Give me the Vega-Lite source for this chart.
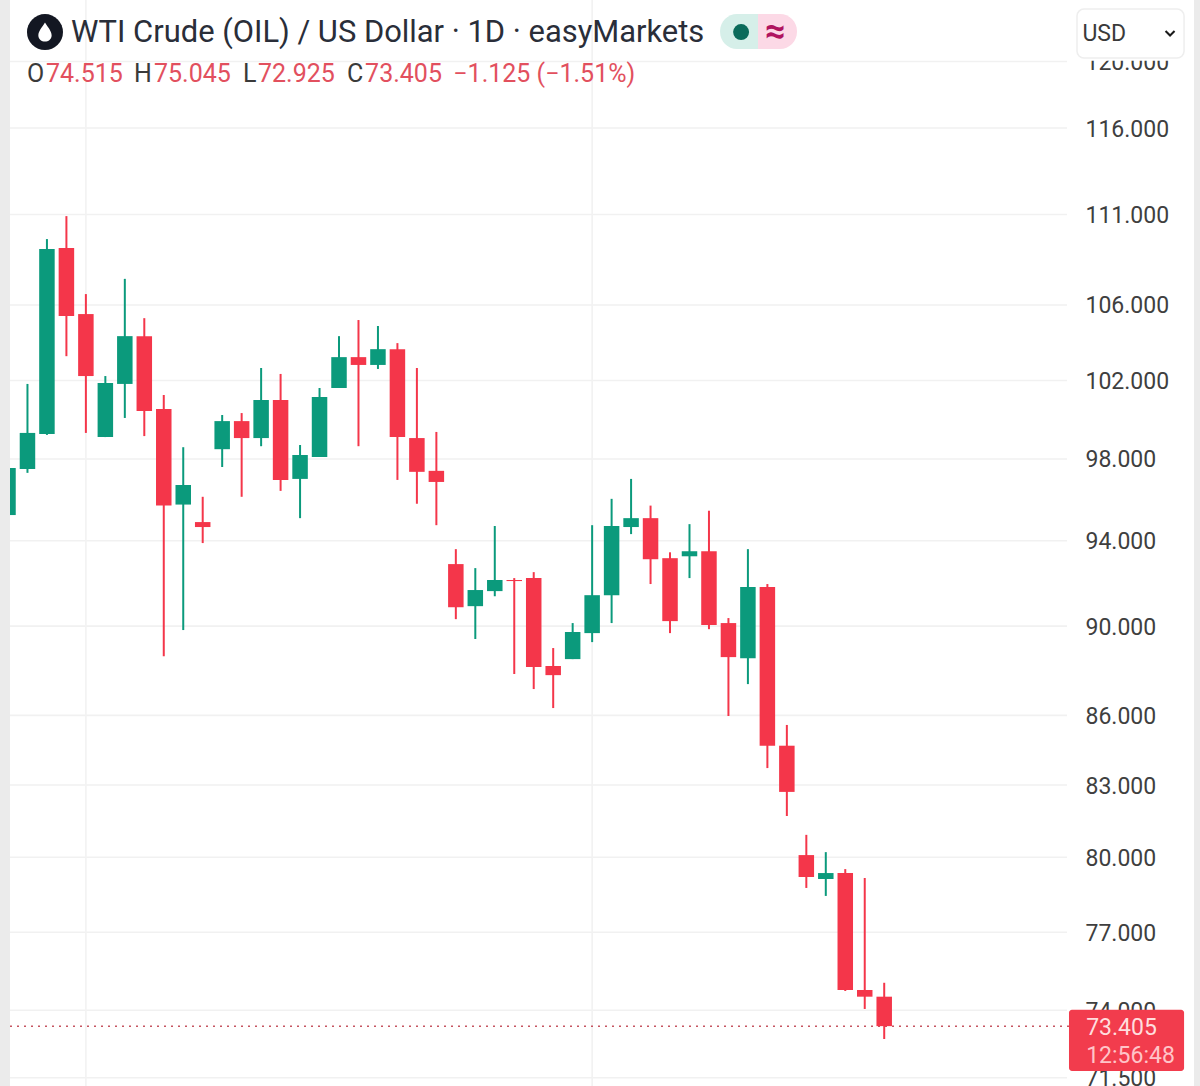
{"$schema":"https://vega.github.io/schema/vega-lite/v6.json","width":1184,"height":1086,"autosize":{"type":"none"},"padding":{"left":10,"right":6,"top":0,"bottom":0},"background":"#ebebeb","config":{"view":{"fill":"#ffffff","stroke":null},"text":{"font":"Roboto"}},
"datasets":{"candles":[
{"i":0,"o":95.24,"h":97.55,"l":95.24,"c":97.55,"dir":"up"},
{"i":1,"o":97.5,"h":101.82,"l":97.31,"c":99.31,"dir":"up"},
{"i":2,"o":99.26,"h":109.62,"l":99.21,"c":109.06,"dir":"up"},
{"i":3,"o":109.12,"h":110.91,"l":103.27,"c":105.4,"dir":"down"},
{"i":4,"o":105.51,"h":106.59,"l":99.31,"c":102.23,"dir":"down"},
{"i":5,"o":99.1,"h":102.23,"l":99.1,"c":101.87,"dir":"up"},
{"i":6,"o":101.82,"h":107.42,"l":100.07,"c":104.33,"dir":"up"},
{"i":7,"o":104.33,"h":105.29,"l":99.15,"c":100.43,"dir":"down"},
{"i":8,"o":100.53,"h":101.25,"l":88.63,"c":95.7,"dir":"down"},
{"i":9,"o":95.75,"h":98.59,"l":89.82,"c":96.71,"dir":"up"},
{"i":10,"o":94.9,"h":96.13,"l":93.89,"c":94.66,"dir":"down"},
{"i":11,"o":98.49,"h":100.22,"l":97.6,"c":99.91,"dir":"up"},
{"i":12,"o":99.91,"h":100.32,"l":96.13,"c":99.05,"dir":"down"},
{"i":13,"o":99.05,"h":102.65,"l":98.64,"c":100.99,"dir":"up"},
{"i":14,"o":100.99,"h":102.34,"l":96.42,"c":96.96,"dir":"down"},
{"i":15,"o":97.01,"h":98.7,"l":95.09,"c":98.2,"dir":"up"},
{"i":16,"o":98.1,"h":101.61,"l":98.1,"c":101.15,"dir":"up"},
{"i":17,"o":101.61,"h":104.33,"l":101.61,"c":103.22,"dir":"up"},
{"i":18,"o":103.22,"h":105.19,"l":98.64,"c":102.81,"dir":"down"},
{"i":19,"o":102.81,"h":104.87,"l":102.6,"c":103.64,"dir":"up"},
{"i":20,"o":103.64,"h":103.96,"l":96.96,"c":99.1,"dir":"down"},
{"i":21,"o":99.05,"h":102.65,"l":95.79,"c":97.36,"dir":"down"},
{"i":22,"o":97.41,"h":99.36,"l":94.75,"c":96.86,"dir":"down"},
{"i":23,"o":92.89,"h":93.6,"l":90.32,"c":90.87,"dir":"down"},
{"i":24,"o":90.92,"h":92.7,"l":89.41,"c":91.67,"dir":"up"},
{"i":25,"o":91.62,"h":94.71,"l":91.38,"c":92.14,"dir":"up"},
{"i":26,"o":92.14,"h":92.23,"l":87.83,"c":92.09,"dir":"down"},
{"i":27,"o":92.23,"h":92.51,"l":87.16,"c":88.14,"dir":"down"},
{"i":28,"o":88.19,"h":89.0,"l":86.32,"c":87.78,"dir":"down"},
{"i":29,"o":88.5,"h":90.14,"l":88.5,"c":89.73,"dir":"up"},
{"i":30,"o":89.68,"h":94.75,"l":89.27,"c":91.43,"dir":"up"},
{"i":31,"o":91.43,"h":96.03,"l":90.14,"c":94.71,"dir":"up"},
{"i":32,"o":94.66,"h":97.01,"l":94.32,"c":95.09,"dir":"up"},
{"i":33,"o":95.09,"h":95.7,"l":91.95,"c":93.12,"dir":"down"},
{"i":34,"o":93.17,"h":93.45,"l":89.68,"c":90.23,"dir":"down"},
{"i":35,"o":93.26,"h":94.8,"l":92.23,"c":93.5,"dir":"up"},
{"i":36,"o":93.5,"h":95.45,"l":89.86,"c":90.05,"dir":"down"},
{"i":37,"o":90.14,"h":90.37,"l":85.97,"c":88.59,"dir":"down"},
{"i":38,"o":88.54,"h":93.6,"l":87.38,"c":91.81,"dir":"up"},
{"i":39,"o":91.81,"h":91.95,"l":83.72,"c":84.68,"dir":"down"},
{"i":40,"o":84.68,"h":85.58,"l":81.7,"c":82.71,"dir":"down"},
{"i":41,"o":80.09,"h":80.92,"l":78.76,"c":79.2,"dir":"down"},
{"i":42,"o":79.12,"h":80.21,"l":78.44,"c":79.36,"dir":"up"},
{"i":43,"o":79.36,"h":79.52,"l":74.73,"c":74.77,"dir":"down"},
{"i":44,"o":74.77,"h":79.16,"l":74.05,"c":74.515,"dir":"down"},
{"i":45,"o":74.515,"h":75.045,"l":72.925,"c":73.405,"dir":"down"}],
"levels":[{"v":120},{"v":116},{"v":111},{"v":106},{"v":102},{"v":98},{"v":94},{"v":90},{"v":86},{"v":83},{"v":80},{"v":77},{"v":74},{"v":71.5}],
"months":[{"i":4},{"i":30}]},
"layer":[
{"data":{"values":[{}]},"mark":{"type":"rect","color":"#ffffff"},"encoding":{
"x":{"datum":0.103,"type":"quantitative","scale":{"domain":[0.103,60.91],"nice":false,"zero":false,"padding":0},"axis":null},"x2":{"datum":60.91},
"y":{"datum":123.82,"type":"quantitative","scale":{"type":"log","domain":[71.2,123.82],"nice":false,"zero":false},"axis":{"values":[120,116,111,106,102,98,94,90,86,83,80,77,74,71.5],"format":".3f","orient":"right","offset":-125,"title":null,"grid":false,"domain":false,"ticks":false,"labelPadding":16,"labelOffset":1,"labelFont":"Roboto","labelFontSize":23,"labelColor":"#3f3f3f","labelOverlap":false,"labelBound":false,"labelFlush":false,"zindex":0}},"y2":{"datum":120.05}}},
{"data":{"name":"levels"},"mark":{"type":"rule","color":"#f1f1f1","strokeWidth":1.6},"encoding":{"y":{"field":"v","type":"quantitative"},"x":{"datum":0.103,"type":"quantitative","axis":null},"x2":{"datum":54.39}}},
{"data":{"name":"months"},"mark":{"type":"rule","color":"#f2f2f2","strokeWidth":1.6},"encoding":{"x":{"field":"i","type":"quantitative","axis":null}}},
{"data":{"values":[{"close":73.405}]},"mark":{"type":"rule","color":"#c65561","strokeWidth":1.5,"strokeDash":[2,5]},"encoding":{"y":{"field":"close","type":"quantitative"},"x":{"datum":0.103,"type":"quantitative","axis":null},"x2":{"datum":54.49}}},
{"data":{"name":"candles"},"mark":{"type":"rule","strokeWidth":2,"clip":true},"encoding":{"x":{"field":"i","type":"quantitative","axis":null},"y":{"field":"h","type":"quantitative"},"y2":{"field":"l"},"color":{"field":"dir","type":"nominal","legend":null,"scale":{"domain":["up","down"],"range":["#0b9a7c","#f4364a"]}}}},
{"data":{"name":"candles"},"mark":{"type":"bar","size":15.5,"clip":true},"encoding":{"x":{"field":"i","type":"quantitative","axis":null},"y":{"field":"o","type":"quantitative"},"y2":{"field":"c"},"color":{"field":"dir","type":"nominal","legend":null}}},
{"data":{"values":[{}]},"mark":{"type":"point","shape":"circle","filled":true,"size":1296,"color":"#131722","opacity":1},"encoding":{"x":{"datum":1.9,"type":"quantitative","axis":null},"y":{"datum":121.81,"type":"quantitative"}}},
{"data":{"values":[{}]},"mark":{"type":"point","shape":"M0,-1 C0.3,-0.5 0.7,-0.1 0.7,0.35 C0.7,0.75 0.35,1 0,1 C-0.35,1 -0.7,0.75 -0.7,0.35 C-0.7,-0.1 -0.3,-0.5 0,-1 Z","filled":true,"size":361,"color":"#ffffff","opacity":1},"encoding":{"x":{"datum":1.9,"type":"quantitative","axis":null},"y":{"datum":121.81,"type":"quantitative"}}},
{"data":{"values":[{"label":"WTI Crude (OIL) / US Dollar · 1D · easyMarkets"}]},"mark":{"type":"text","align":"left","baseline":"middle","fontSize":30.9,"color":"#2a2e39"},"encoding":{"x":{"datum":3.236,"type":"quantitative","axis":null},"y":{"datum":121.75,"type":"quantitative"},"text":{"field":"label"}}},
{"data":{"values":[{"label":"O"}]},"mark":{"type":"text","align":"left","baseline":"middle","fontSize":25,"color":"#3a3a3a"},"encoding":{"x":{"datum":0.976,"type":"quantitative","axis":null},"y":{"datum":119.24,"type":"quantitative"},"text":{"field":"label"}}},
{"data":{"values":[{"label":"74.515"}]},"mark":{"type":"text","align":"left","baseline":"middle","fontSize":25,"color":"#e2505e"},"encoding":{"x":{"datum":1.952,"type":"quantitative","axis":null},"y":{"datum":119.24,"type":"quantitative"},"text":{"field":"label"}}},
{"data":{"values":[{"label":"H"}]},"mark":{"type":"text","align":"left","baseline":"middle","fontSize":25,"color":"#3a3a3a"},"encoding":{"x":{"datum":6.471,"type":"quantitative","axis":null},"y":{"datum":119.24,"type":"quantitative"},"text":{"field":"label"}}},
{"data":{"values":[{"label":"75.045"}]},"mark":{"type":"text","align":"left","baseline":"middle","fontSize":25,"color":"#e2505e"},"encoding":{"x":{"datum":7.499,"type":"quantitative","axis":null},"y":{"datum":119.24,"type":"quantitative"},"text":{"field":"label"}}},
{"data":{"values":[{"label":"L"}]},"mark":{"type":"text","align":"left","baseline":"middle","fontSize":25,"color":"#3a3a3a"},"encoding":{"x":{"datum":12.07,"type":"quantitative","axis":null},"y":{"datum":119.24,"type":"quantitative"},"text":{"field":"label"}}},
{"data":{"values":[{"label":"72.925"}]},"mark":{"type":"text","align":"left","baseline":"middle","fontSize":25,"color":"#e2505e"},"encoding":{"x":{"datum":12.84,"type":"quantitative","axis":null},"y":{"datum":119.24,"type":"quantitative"},"text":{"field":"label"}}},
{"data":{"values":[{"label":"C"}]},"mark":{"type":"text","align":"left","baseline":"middle","fontSize":25,"color":"#3a3a3a"},"encoding":{"x":{"datum":17.41,"type":"quantitative","axis":null},"y":{"datum":119.24,"type":"quantitative"},"text":{"field":"label"}}},
{"data":{"values":[{"label":"73.405"}]},"mark":{"type":"text","align":"left","baseline":"middle","fontSize":25,"color":"#e2505e"},"encoding":{"x":{"datum":18.34,"type":"quantitative","axis":null},"y":{"datum":119.24,"type":"quantitative"},"text":{"field":"label"}}},
{"data":{"values":[{"label":"−1.125 (−1.51%)"}]},"mark":{"type":"text","align":"left","baseline":"middle","fontSize":25,"color":"#e2505e"},"encoding":{"x":{"datum":22.87,"type":"quantitative","axis":null},"y":{"datum":119.24,"type":"quantitative"},"text":{"field":"label"}}},
{"data":{"values":[{}]},"mark":{"type":"rect","color":"#d6efe9","cornerRadiusTopLeft":17,"cornerRadiusBottomLeft":17},"encoding":{"x":{"datum":36.57,"type":"quantitative","axis":null},"x2":{"datum":38.52},"y":{"datum":122.94,"type":"quantitative"},"y2":{"datum":120.76}}},
{"data":{"values":[{}]},"mark":{"type":"rect","color":"#fcd9e6","cornerRadiusTopRight":17,"cornerRadiusBottomRight":17},"encoding":{"x":{"datum":38.52,"type":"quantitative","axis":null},"x2":{"datum":40.52},"y":{"datum":122.94,"type":"quantitative"},"y2":{"datum":120.76}}},
{"data":{"values":[{}]},"mark":{"type":"point","shape":"circle","filled":true,"size":256,"color":"#0b6b5b","opacity":1},"encoding":{"x":{"datum":37.65,"type":"quantitative","axis":null},"y":{"datum":121.81,"type":"quantitative"}}},
{"data":{"values":[{"label":"≈"}]},"mark":{"type":"text","align":"center","baseline":"middle","fontSize":36,"fontWeight":"bold","color":"#b0145f"},"encoding":{"x":{"datum":39.4,"type":"quantitative","axis":null},"y":{"datum":121.81,"type":"quantitative"},"text":{"field":"label"}}},
{"data":{"values":[{}]},"mark":{"type":"rect","fill":"#ffffff","stroke":"#eeeeee","strokeWidth":1.5,"cornerRadius":7},"encoding":{"x":{"datum":54.9,"type":"quantitative","axis":null},"x2":{"datum":60.4},"y":{"datum":123.25,"type":"quantitative"},"y2":{"datum":120.21}}},
{"data":{"values":[{"label":"USD"}]},"mark":{"type":"text","align":"left","baseline":"middle","fontSize":23,"color":"#3a3a3a"},"encoding":{"x":{"datum":55.18,"type":"quantitative","axis":null},"y":{"datum":121.69,"type":"quantitative"},"text":{"field":"label"}}},
{"data":{"values":[{}]},"mark":{"type":"point","shape":"M-1,-0.45 L0,0.55 L1,-0.45","filled":false,"size":81,"stroke":"#1a1a1a","strokeWidth":2,"opacity":1},"encoding":{"x":{"datum":59.68,"type":"quantitative","axis":null},"y":{"datum":121.75,"type":"quantitative"}}},
{"data":{"values":[{}]},"mark":{"type":"rect","color":"#f23c4d","cornerRadius":3},"encoding":{"x":{"datum":54.49,"type":"quantitative","axis":null},"x2":{"datum":60.4},"y":{"datum":74.02,"type":"quantitative"},"y2":{"datum":71.75}}},
{"data":{"values":[{"label":"73.405"}]},"mark":{"type":"text","align":"left","baseline":"middle","fontSize":23,"color":"#ffdede"},"encoding":{"x":{"datum":55.37,"type":"quantitative","axis":null},"y":{"datum":73.34,"type":"quantitative"},"text":{"field":"label"}}},
{"data":{"values":[{"label":"12:56:48"}]},"mark":{"type":"text","align":"left","baseline":"middle","fontSize":23,"color":"#ffc4c8"},"encoding":{"x":{"datum":55.37,"type":"quantitative","axis":null},"y":{"datum":72.3,"type":"quantitative"},"text":{"field":"label"}}}
]}
